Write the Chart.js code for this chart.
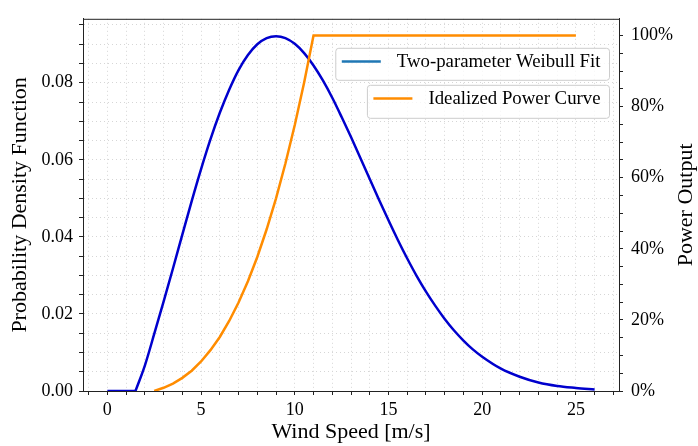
<!DOCTYPE html>
<html>
<head>
<meta charset="utf-8">
<script src="https://cdn.jsdelivr.net/npm/chart.js@4.4.0/dist/chart.umd.min.js"></script>
<style>
  html, body { margin: 0; padding: 0; background: #fff; }
  #wrap { width: 698px; height: 446px; }
</style>
</head>
<body>
<div id="wrap"><canvas id="windChart" width="698" height="446"></canvas></div>
<script>
// wind speed samples [m/s] and the fitted Weibull density
const weibullSpeed = [0, 1.5, 2, 2.5, 3, 3.5, 4, 4.5, 5, 5.5, 6, 6.5, 7, 7.5, 8, 8.5, 9, 9.5, 10,
  10.5, 11, 11.5, 12, 12.5, 13, 13.5, 14, 14.5, 15, 15.5, 16, 16.5, 17, 17.5, 18, 18.5, 19,
  19.5, 20, 21, 22, 23, 24, 25, 26];
const weibullPdf = [0, 0, 0.0066, 0.0148, 0.0232, 0.0318, 0.0406, 0.0493, 0.0576, 0.0653, 0.0722,
  0.0782, 0.0833, 0.0872, 0.0900, 0.0916, 0.0921, 0.0916, 0.0901, 0.0877, 0.0845, 0.0806,
  0.0761, 0.0711, 0.0659, 0.0605, 0.0550, 0.0496, 0.0443, 0.0392, 0.0344, 0.0299, 0.0258,
  0.0221, 0.0187, 0.0157, 0.0131, 0.0108, 0.0089, 0.0058, 0.0037, 0.0022, 0.0013, 0.0008, 0.0004];

// idealized turbine power curve (cut-in 2.5, rated 11, cut-out 25), % of rated
const powerSpeed = [2.5, 3, 3.5, 4, 4.5, 5, 5.5, 6, 6.5, 7, 7.5, 8, 8.5, 9, 9.5, 10, 10.5, 11, 25];
const powerPct = [0, 0.9, 2.1, 3.7, 5.7, 8.3, 11.5, 15.2, 19.7, 24.9, 30.9, 37.7, 45.5, 54.2,
  64.0, 74.8, 86.8, 100, 100];

// labelled ticks (the rest are minor ticks)
const speedTicks = [0, 5, 10, 15, 20, 25];
const pdfTicks = [0, 0.02, 0.04, 0.06, 0.08];
const powerTicks = [0, 20, 40, 60, 80, 100];

const weibullLabel = "Two-parameter Weibull Fit";
const powerLabel = "Idealized Power Curve";
const powerAxisTitle = "Power Output";

const weibullColor = "#0000cd";
const weibullLegendColor = "#1f77b4";
const powerColor = "#ff8c00";
const gridColor = "#d6d6d6";
const axisColor = "#222";

Chart.defaults.font.family = "Liberation Serif";
Chart.defaults.font.size = 18;
Chart.defaults.color = "#000";

function toPoints(xs, ys) {
  return xs.map((x, i) => ({ x: x, y: ys[i] }));
}

function isTick(list, v) {
  return list.some(t => Math.abs(t - v) < 1e-9);
}

// calm part (zero density) is drawn straight, the rest as a smooth curve,
// so the corner where the density starts rising stays sharp
const firstRise = weibullPdf.findIndex(v => v > 0) - 1;
const calmPoints = toPoints(weibullSpeed.slice(0, firstRise + 1), weibullPdf.slice(0, firstRise + 1));
const fitPoints = toPoints(weibullSpeed.slice(firstRise), weibullPdf.slice(firstRise));

function roundBox(ctx, x, y, w, h, r) {
  ctx.beginPath();
  ctx.moveTo(x + r, y);
  ctx.lineTo(x + w - r, y);
  ctx.arcTo(x + w, y, x + w, y + r, r);
  ctx.lineTo(x + w, y + h - r);
  ctx.arcTo(x + w, y + h, x + w - r, y + h, r);
  ctx.lineTo(x + r, y + h);
  ctx.arcTo(x, y + h, x, y + h - r, r);
  ctx.lineTo(x, y + r);
  ctx.arcTo(x, y, x + r, y, r);
  ctx.closePath();
}

// top spine, right axis title and the two separate legend boxes
const frameAndLegends = {
  id: "frameAndLegends",
  afterDraw(chart) {
    const ctx = chart.ctx;
    const a = chart.chartArea;
    ctx.save();
    ctx.strokeStyle = axisColor;
    ctx.lineWidth = 1;
    ctx.strokeRect(a.left + 0.5, a.top + 0.5, a.right - a.left, a.bottom - a.top);

    ctx.save();
    ctx.translate(chart.width - 11.5, (a.top + a.bottom) / 2);
    ctx.rotate(-Math.PI / 2);
    ctx.font = "22px 'Liberation Serif'";
    ctx.fillStyle = "#000";
    ctx.textAlign = "center";
    ctx.textBaseline = "middle";
    ctx.fillText(powerAxisTitle, 0, 0);
    ctx.restore();

    const boxes = [
      { label: weibullLabel, color: weibullLegendColor, top: 29, height: 32 },
      { label: powerLabel, color: powerColor, top: 66, height: 33 }
    ];
    ctx.font = "18.8px 'Liberation Serif'";
    boxes.forEach(b => {
      const tw = ctx.measureText(b.label).width;
      const w = 6.5 + 39 + 16 + tw + 8.5;
      const x = a.right - 10 - w;
      const y = a.top + b.top;
      roundBox(ctx, x + 0.5, y + 0.5, w, b.height, 3);
      ctx.fillStyle = "rgba(255,255,255,0.8)";
      ctx.fill();
      ctx.strokeStyle = "#cccccc";
      ctx.lineWidth = 1;
      ctx.stroke();

      const cy = y + 13.8;
      ctx.beginPath();
      ctx.moveTo(x + 6.5, cy);
      ctx.lineTo(x + 45.5, cy);
      ctx.strokeStyle = b.color;
      ctx.lineWidth = 2.5;
      ctx.stroke();

      ctx.fillStyle = "#000";
      ctx.textAlign = "left";
      ctx.textBaseline = "alphabetic";
      ctx.fillText(b.label, x + 61.5, y + 19.5);
    });
    ctx.restore();
  }
};

const ctx = document.getElementById("windChart").getContext("2d");

new Chart(ctx, {
  type: "line",
  data: {
    datasets: [{
      label: weibullLabel,
      data: fitPoints,
      yAxisID: "y",
      borderColor: weibullColor,
      borderWidth: 2.5,
      pointRadius: 0,
      cubicInterpolationMode: "monotone",
      order: 1
    }, {
      label: weibullLabel,
      data: calmPoints,
      yAxisID: "y",
      borderColor: weibullColor,
      borderWidth: 2.5,
      pointRadius: 0,
      tension: 0,
      order: 1
    }, {
      label: powerLabel,
      data: toPoints(powerSpeed, powerPct),
      yAxisID: "y1",
      borderColor: powerColor,
      borderWidth: 2.5,
      pointRadius: 0,
      tension: 0,
      order: 0
    }]
  },
  options: {
    responsive: false,
    animation: false,
    devicePixelRatio: 1,
    layout: { padding: { top: 16, left: 0, right: 0, bottom: 0 } },
    plugins: {
      legend: { display: false },
      tooltip: { enabled: false }
    },
    scales: {
      x: {
        type: "linear",
        min: -1.3,
        max: 27.3,
        afterFit: s => { s.height = 55; },
        ticks: {
          stepSize: 1,
          includeBounds: false,
          autoSkip: false,
          maxRotation: 0,
          padding: 4,
          callback: v => (isTick(speedTicks, v) ? String(v) : "")
        },
        grid: { color: gridColor, lineWidth: 1, tickLength: 4, tickColor: axisColor, tickWidth: 1 },
        border: { color: axisColor, width: 1, dash: [1, 3] },
        title: {
          display: true,
          text: "Wind Speed [m/s]",
          font: { size: 22, lineHeight: 1 },
          padding: { top: 0, bottom: 3 }
        }
      },
      y: {
        type: "linear",
        position: "left",
        min: 0,
        max: 0.0966,
        afterFit: s => { s.width = 83; },
        ticks: {
          stepSize: 0.005,
          includeBounds: false,
          autoSkip: false,
          padding: 6,
          callback: v => (isTick(pdfTicks, v) ? v.toFixed(2) : "")
        },
        grid: { color: gridColor, lineWidth: 1, tickLength: 4, tickColor: axisColor, tickWidth: 1 },
        border: { color: axisColor, width: 1, dash: [1, 3] },
        title: {
          display: true,
          text: "Probability Density Function",
          font: { size: 22, lineHeight: 1 },
          padding: { top: 9, bottom: 0 }
        }
      },
      y1: {
        type: "linear",
        position: "right",
        min: 0,
        max: 104.7,
        afterFit: s => { s.width = 79; },
        ticks: {
          stepSize: 5,
          includeBounds: false,
          autoSkip: false,
          padding: 8,
          callback: v => (isTick(powerTicks, v) ? v + "%" : "")
        },
        grid: { drawOnChartArea: false, color: axisColor, tickLength: 4, tickColor: axisColor, tickWidth: 1 },
        border: { color: axisColor, width: 1 },
        title: { display: false }
      }
    }
  },
  plugins: [frameAndLegends]
});
</script>
</body>
</html>
